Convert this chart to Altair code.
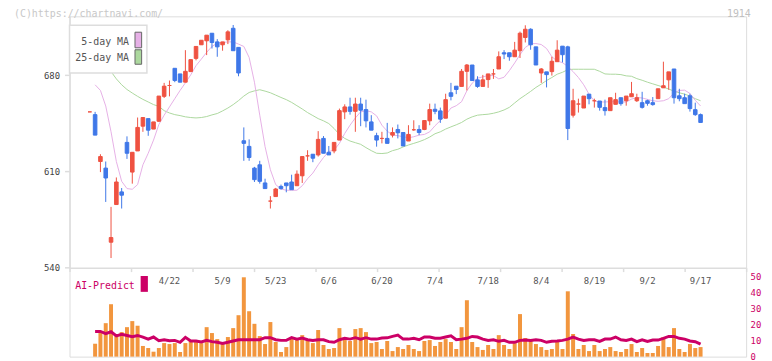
import altair as alt
import pandas as pd

# ---------------- data ----------------
IDX = list(range(-1, 115))

OPEN = [653.3,
    651.3, 617.2, 612.4, 558.5, 585.9, 595.1, 631.1, 609.5, 624.9, 642.9,
    648.4, 640.8, 646.5, 664.6, 672.5, 685.0, 680.9, 674.9, 682.6, 692.2,
    702.1, 705.0, 710.5, 704.2, 702.1, 705.7, 714.1, 700.2, 632.3, 628.2,
    612.4, 614.8, 601.6, 588.4, 591.7, 599.1, 601.6, 602.3, 599.6, 606.8,
    621.3, 622.5, 622.0, 634.0, 623.9, 624.9, 632.8, 653.3, 656.9, 653.7,
    659.0, 655.0, 646.0, 636.0, 634.0, 634.0, 636.4, 640.5, 638.3, 632.1,
    640.3, 640.5, 640.5, 646.8, 655.2, 654.0, 648.7, 667.2, 672.0, 671.8,
    682.8, 687.4, 676.6, 671.8, 676.8, 680.9, 684.5, 696.3, 696.3, 693.4,
    697.8, 707.4, 713.4, 700.6, 681.6, 682.4, 682.6, 689.8, 701.1, 700.6,
    650.9, 659.0, 656.1, 666.2, 661.4, 661.2, 656.4, 654.2, 658.8, 663.6,
    661.4, 664.3, 661.4, 660.0, 661.4, 660.0, 662.9, 670.8, 676.6, 684.5,
    665.0, 663.6, 665.0, 654.9, 651.3]
HIGH = [653.3,
    653.3, 622.5, 617.2, 584.2, 605.6, 597.9, 635.5, 623.9, 649.2, 649.2,
    648.4, 646.0, 664.8, 674.4, 676.1, 685.0, 680.9, 698.2, 691.3, 700.9,
    705.4, 709.1, 710.5, 706.2, 704.2, 712.7, 716.5, 700.2, 642.0, 633.3,
    613.3, 617.7, 604.7, 592.0, 598.0, 600.4, 601.6, 607.6, 610.7, 620.8,
    625.4, 622.5, 639.3, 635.7, 628.5, 631.1, 655.7, 658.8, 663.6, 663.6,
    663.6, 662.2, 650.9, 638.1, 638.8, 645.3, 642.0, 644.1, 638.3, 643.6,
    647.2, 643.6, 647.0, 659.3, 659.3, 656.4, 666.5, 674.4, 672.0, 684.5,
    688.1, 687.4, 679.2, 680.2, 680.9, 684.5, 697.3, 698.2, 696.3, 704.2,
    711.7, 716.3, 714.1, 700.6, 685.2, 682.4, 693.4, 705.4, 701.1, 701.4,
    670.1, 662.9, 664.8, 666.2, 662.9, 661.2, 662.2, 663.6, 667.2, 663.6,
    664.8, 675.1, 666.5, 667.9, 662.2, 664.1, 670.1, 689.8, 682.4, 684.5,
    670.1, 666.5, 666.5, 660.0, 652.1]
LOW = [653.3,
    636.4, 609.5, 587.8, 547.0, 585.9, 583.0, 619.1, 601.1, 624.9, 638.8,
    635.9, 640.8, 646.0, 663.4, 664.6, 674.9, 674.9, 674.9, 682.6, 690.8,
    702.1, 694.6, 699.4, 693.4, 697.8, 702.6, 697.8, 679.2, 617.7, 617.7,
    602.3, 601.1, 597.5, 583.0, 591.7, 596.7, 594.8, 596.7, 599.6, 601.6,
    617.7, 616.7, 620.8, 623.2, 622.0, 623.2, 632.8, 648.0, 651.3, 638.8,
    642.9, 642.0, 640.0, 628.0, 630.4, 630.4, 634.7, 634.0, 628.5, 632.1,
    639.5, 636.4, 640.0, 643.6, 651.6, 645.3, 648.7, 661.7, 666.2, 671.8,
    668.9, 676.1, 670.8, 671.8, 670.8, 677.3, 684.5, 691.7, 690.5, 693.4,
    692.5, 703.8, 698.5, 687.4, 674.4, 671.1, 679.7, 689.8, 689.3, 632.8,
    649.2, 652.8, 656.1, 658.8, 656.4, 654.2, 650.6, 654.2, 658.8, 657.8,
    657.8, 664.3, 660.5, 655.7, 657.8, 657.8, 662.9, 670.8, 669.4, 659.3,
    661.0, 659.3, 653.5, 650.4, 645.6]
CLOSE = [653.3,
    636.4, 620.8, 605.2, 561.9, 602.3, 592.7, 623.2, 623.9, 642.0, 649.2,
    640.0, 646.0, 664.8, 672.0, 672.5, 676.1, 674.9, 682.8, 691.3, 700.9,
    705.4, 709.1, 703.8, 700.6, 704.2, 711.5, 697.8, 681.6, 630.4, 620.1,
    604.0, 602.8, 597.5, 588.4, 597.2, 597.5, 599.6, 596.7, 608.0, 620.8,
    621.3, 619.6, 633.3, 623.2, 622.0, 631.1, 654.2, 656.9, 653.7, 659.0,
    654.5, 646.8, 640.0, 632.8, 634.0, 630.4, 638.3, 638.1, 628.5, 636.9,
    640.3, 638.3, 647.0, 655.0, 653.7, 648.0, 662.2, 664.6, 669.6, 682.8,
    687.4, 676.1, 671.8, 676.6, 680.9, 680.9, 693.4, 695.4, 693.4, 698.2,
    710.5, 713.4, 702.1, 687.4, 684.5, 680.4, 690.1, 698.2, 694.9, 641.2,
    661.4, 659.0, 664.8, 662.9, 661.4, 656.6, 654.2, 663.6, 662.2, 659.3,
    664.8, 666.5, 663.6, 656.6, 659.5, 658.6, 670.1, 672.3, 682.4, 663.6,
    662.9, 659.3, 655.7, 651.3, 645.6]

MA5 = [None,
    673.0, 668.9, 657.6, 638.8, 617.2, 602.8, 597.5, 597.0, 600.4, 614.8,
    623.2, 632.8, 644.1, 650.9, 656.9, 662.9, 668.9, 674.4, 680.2, 686.9,
    691.7, 696.6, 700.9, 703.3, 703.8, 704.2, 704.2, 702.6, 700.9, 692.9,
    674.9, 650.9, 628.0, 611.2, 600.4, 597.2, 596.3, 596.3, 596.3, 599.6,
    604.7, 608.8, 614.8, 620.1, 624.4, 625.6, 630.4, 637.6, 643.6, 648.9,
    653.3, 654.2, 653.3, 650.4, 643.6, 639.3, 636.4, 636.0, 635.2, 634.5,
    635.2, 636.4, 636.9, 638.8, 643.2, 647.0, 650.9, 656.1, 657.8, 660.7,
    668.7, 674.2, 677.8, 678.8, 679.7, 679.7, 677.3, 678.5, 683.3, 688.9,
    694.9, 700.2, 702.8, 703.0, 702.3, 699.4, 693.4, 690.3, 689.1, 686.4,
    682.6, 678.3, 673.0, 666.2, 661.2, 660.5, 660.5, 660.7, 660.7, 660.5,
    660.5, 662.6, 663.8, 663.4, 662.4, 661.4, 661.0, 661.4, 662.9, 667.0,
    668.9, 669.1, 666.7, 661.7, 657.6]

MA25 = [None, None, None, None,
    682.6, 677.3, 673.0, 669.6, 667.0, 664.6, 662.4,
    660.5, 658.6, 657.3, 654.2, 652.5, 651.3, 650.6, 649.7, 649.2, 648.9,
    649.2, 649.9, 651.1, 652.1, 654.0, 656.1, 658.6, 661.5, 664.8, 667.4,
    668.6, 669.4, 668.4, 667.2, 665.5, 663.8, 662.2, 660.2, 657.8, 655.4,
    652.8, 650.6, 648.4, 646.8, 644.8, 641.2, 636.9, 634.0, 632.1, 630.9,
    629.7, 627.3, 625.1, 623.2, 623.0, 623.4, 625.1, 626.1, 627.8, 629.2,
    630.4, 631.6, 633.1, 635.0, 637.4, 638.8, 640.8, 642.4, 643.9, 645.6,
    648.0, 649.7, 650.9, 651.3, 651.6, 652.3, 653.3, 654.7, 656.6, 659.8,
    662.9, 665.5, 668.2, 671.1, 673.5, 676.1, 678.3, 680.7, 682.1, 684.0,
    684.3, 684.3, 684.3, 684.3, 684.3, 682.8, 680.9, 680.7, 680.7, 680.4,
    679.5, 679.2, 677.5, 676.3, 674.9, 673.7, 672.5, 671.3, 669.9, 668.4,
    667.2, 666.2, 664.8, 662.9, 661.4]

VOLUME = [None,
    8.1, 15.8, 21.0, 32.9, 14.2, 15.4, 18.5, 22.3, 19.4, 6.7,
    5.4, 3.1, 5.4, 8.5, 7.9, 8.5, 2.9, 8.5, 10.0, 10.0,
    8.5, 18.5, 14.8, 11.0, 7.9, 12.3, 17.9, 26.0, 49.8, 28.5,
    20.6, 12.9, 7.9, 21.7, 9.2, 2.9, 6.0, 12.3, 10.4, 13.5,
    11.0, 8.5, 16.7, 7.3, 4.8, 5.4, 17.9, 11.0, 9.8, 17.3,
    17.9, 15.4, 8.5, 9.2, 4.8, 9.8, 3.5, 6.0, 4.8, 7.3,
    4.8, 3.5, 9.8, 10.4, 6.7, 9.2, 11.0, 9.2, 4.8, 18.5,
    35.4, 9.2, 6.0, 4.2, 7.3, 4.8, 13.5, 7.3, 4.8, 8.5,
    26.7, 11.7, 9.8, 7.9, 6.0, 4.2, 4.8, 9.2, 4.8, 41.0,
    14.2, 4.8, 7.3, 3.5, 7.3, 3.5, 4.8, 6.0, 3.5, 2.9,
    4.8, 7.9, 2.9, 5.4, 2.3, 2.3, 6.7, 12.3, 6.0, 17.9,
    4.8, 2.9, 7.9, 5.4, 6.0]

AI_PREDICT = [None,
    15.8, 15.8, 14.4, 15.6, 13.0, 14.0, 13.3, 12.5, 13.3, 12.3,
    11.0, 12.3, 10.0, 10.6, 10.0, 10.2, 9.0, 12.1, 9.8, 9.8,
    9.2, 10.2, 9.4, 9.0, 8.3, 9.0, 9.8, 10.6, 10.6, 10.6,
    10.6, 10.6, 11.9, 11.9, 10.6, 10.2, 10.2, 11.9, 11.0, 11.7,
    10.6, 10.2, 10.6, 10.6, 9.4, 9.0, 10.6, 11.5, 11.0, 11.9,
    11.0, 11.9, 11.0, 11.0, 11.7, 11.8, 12.7, 13.5, 11.0, 11.0,
    11.5, 10.6, 12.3, 12.3, 11.5, 11.5, 12.3, 13.1, 10.6, 11.0,
    11.5, 12.7, 12.3, 11.0, 10.2, 10.6, 9.6, 10.2, 9.0, 9.0,
    10.2, 10.4, 10.2, 10.6, 10.2, 9.0, 9.6, 9.8, 10.2, 11.0,
    12.3, 11.0, 10.2, 10.6, 10.6, 9.6, 11.0, 11.0, 12.3, 10.6,
    10.2, 11.0, 9.4, 10.6, 9.6, 10.4, 10.4, 11.5, 12.7, 12.7,
    11.5, 11.0, 9.8, 9.4, 7.8]

DATE_IDX = [14, 24, 34, 44, 54, 64, 74, 84, 94, 104, 114]
DATE_LABELS = ["4/22", "5/9", "5/23", "6/6", "6/20", "7/4", "7/18", "8/4", "8/19", "9/2", "9/17"]

PRICE_TICKS = [540, 610, 680]
VOL_TICKS = [0, 10, 20, 30, 40, 50]

for name, arr in [("OPEN", OPEN), ("HIGH", HIGH), ("LOW", LOW), ("CLOSE", CLOSE),
                  ("MA5", MA5), ("MA25", MA25), ("VOLUME", VOLUME), ("AI", AI_PREDICT)]:
    assert len(arr) == len(IDX), (name, len(arr))

df = pd.DataFrame({
    "idx": IDX, "open": OPEN, "high": HIGH, "low": LOW, "close": CLOSE,
    "ma5": MA5, "ma25": MA25, "vol": VOLUME, "ai": AI_PREDICT,
})
df["dir"] = ["up" if c >= o else "down" for o, c in zip(df["open"], df["close"])]
dates = pd.DataFrame({"idx": DATE_IDX, "label": DATE_LABELS})
one = pd.DataFrame({"k": [0]})

# ---------------- layout / style ----------------
W, H = 682, 343
FONT = "DejaVu Sans Mono"
X_DOM = [-4.82, 122.58]
PRICE_DOM = [540, 722.8]
PRICE_RANGE = [253.3, 0]
VOL_DOM = [0, 50]
VOL_RANGE = [343, 262.7]
AXIS_GRAY = "#dddddd"
RED, BLUE = "#ef5241", "#3f77e8"
PINK, GREEN = "#e6b0e6", "#acd89e"
ORANGE, MAGENTA = "#f2963e", "#cc0066"

x_ticks = [X_DOM[0] + k * (X_DOM[1] - X_DOM[0]) / 11 for k in range(12)]
xscale = alt.Scale(domain=X_DOM, nice=False, zero=False, padding=0)
xaxis = alt.Axis(values=x_ticks, labels=False, title=None, grid=False,
                 domain=True, ticks=True,
                 domainColor=AXIS_GRAY, domainWidth=1.5, tickColor=AXIS_GRAY,
                 tickWidth=1.5, tickSize=4, offset=-(H - PRICE_RANGE[0]))
X = alt.X("idx:Q", scale=xscale, axis=xaxis)

pscale = alt.Scale(domain=PRICE_DOM, range=PRICE_RANGE, nice=False, zero=False)
vscale = alt.Scale(domain=VOL_DOM, range=VOL_RANGE, nice=False, zero=True)
pcolor = alt.Scale(domain=["up", "down"], range=[RED, BLUE])

left_axis = alt.Axis(orient="left", values=PRICE_TICKS, title=None, grid=False,
                     domain=True, ticks=True,
                     domainColor=AXIS_GRAY, domainWidth=1.5, tickColor=AXIS_GRAY,
                     tickWidth=1.5, tickSize=5, labelPadding=5, labelColor="#444444",
                     labelFont=FONT, labelFontSize=9)
right_axis = alt.Axis(orient="right", values=VOL_TICKS, title=None, grid=False,
                      domain=False, ticks=False, tickSize=0,
                      labelPadding=4, labelColor=MAGENTA, labelFont=FONT,
                      labelFontSize=9)

base = alt.Chart(df)

ma25 = base.mark_line(color=GREEN, strokeWidth=1).encode(
    x=X, y=alt.Y("ma25:Q", scale=pscale, axis=None))
ma5 = base.mark_line(color=PINK, strokeWidth=1).encode(
    x=X, y=alt.Y("ma5:Q", scale=pscale, axis=None))
wick = base.mark_rule(strokeWidth=1).encode(
    x=X, y=alt.Y("low:Q", scale=pscale, axis=None), y2="high:Q",
    color=alt.Color("dir:N", scale=pcolor, legend=None))
body = base.mark_bar(size=3.6, strokeWidth=1).encode(
    x=X, y=alt.Y("open:Q", scale=pscale, axis=left_axis), y2="close:Q",
    color=alt.Color("dir:N", scale=pcolor, legend=None),
    stroke=alt.Stroke("dir:N", scale=pcolor, legend=None))

vol = base.mark_bar(size=4, color=ORANGE).encode(
    x=X, y=alt.Y("vol:Q", scale=vscale, axis=right_axis))
ai = base.mark_line(color=MAGENTA, strokeWidth=3).encode(
    x=X, y=alt.Y("ai:Q", scale=vscale, axis=None))

date_text = alt.Chart(dates).mark_text(font=FONT, fontSize=9, color="#555555",
                                        baseline="middle").encode(
    x=X, y=alt.value(266.7), text="label:N")

def txt(s, x, y, **kw):
    return alt.Chart(one).mark_text(text=s, font=FONT, baseline="middle", **kw).encode(
        x=alt.value(x), y=alt.value(y))

def box(x1, x2, y1, y2, **kw):
    return alt.Chart(one).mark_rect(**kw).encode(
        x=alt.value(x1), x2=alt.value(x2), y=alt.value(y1), y2=alt.value(y2))

legend_box = box(0, 78, 9, 57, fill="white", stroke="#dddddd", strokeWidth=1.5)
leg_t1 = txt("5-day MA", 60, 25.5, align="right", fontSize=10, color="#555555")
leg_t2 = txt("25-day MA", 60, 42.3, align="right", fontSize=10, color="#555555")
leg_s1 = box(66, 72.7, 16, 31.7, fill=PINK, stroke="#666666", strokeWidth=1)
leg_s2 = box(66, 72.7, 33.7, 48.3, fill=GREEN, stroke="#666666", strokeWidth=1)

ai_label = txt("AI-Predict", 5.7, 272, align="left", fontSize=10, color=MAGENTA)
ai_swatch = box(71.7, 79, 261.7, 277.7, fill=MAGENTA)

copyright = txt("(C)https://chartnavi.com/", -56, -2.5, align="left", fontSize=10, color="#c8c8c8")
code = txt("1914", 686.7, -2.5, align="right", fontSize=10, color="#c0c0c0")

chart = alt.layer(
    ma25, ma5, wick, body, vol, ai, date_text,
    legend_box, leg_t1, leg_t2, leg_s1, leg_s2,
    ai_label, ai_swatch, copyright, code,
).resolve_scale(y="independent").properties(
    width=W, height=H,
    autosize=alt.AutoSizeParams(type="none"),
    padding={"left": 62, "top": 7, "right": 18, "bottom": 3},
).configure_view(stroke="transparent", strokeWidth=0).configure_axis(
    domain=False, ticks=False, grid=False
).configure(background="white")

chart.save("out.html", embed_options={"renderer": "svg", "actions": False})
